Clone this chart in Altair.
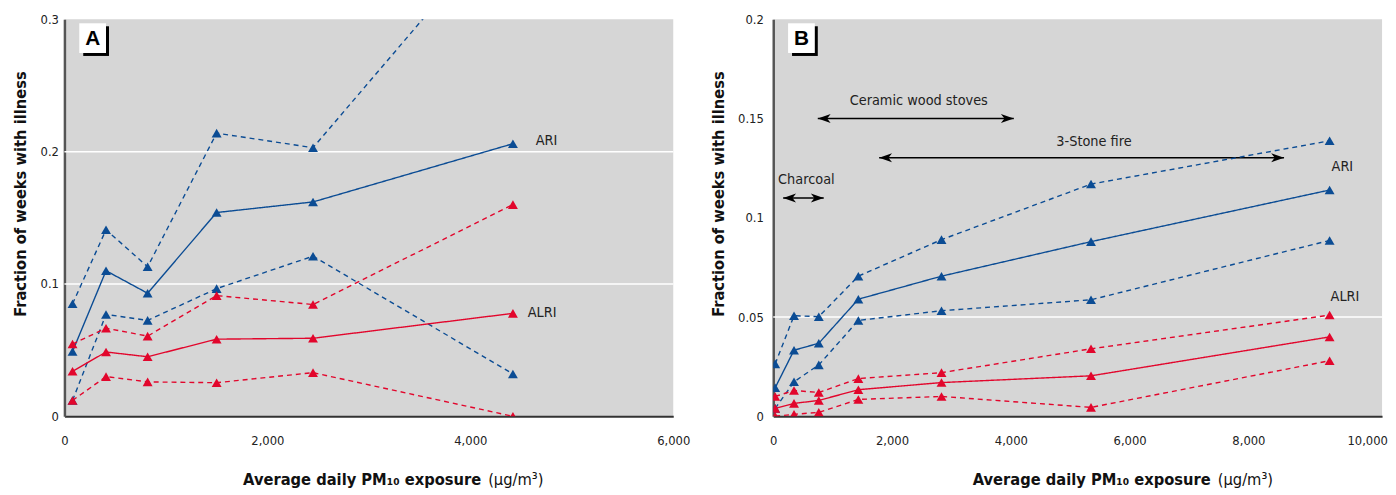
import altair as alt
import pandas as pd

# ---------------- data ----------------
# Panel A
a_x = [80, 410, 820, 1500, 2450, 4420]
a_ari_mid = [0.049, 0.110, 0.093, 0.154, 0.162, 0.206]
a_ari_hi = [0.085, 0.141, 0.113, 0.214, 0.203, 0.38]
a_ari_lo = [0.012, 0.077, 0.0725, 0.0965, 0.121, 0.032]
a_alri_mid = [0.034, 0.0486, 0.045, 0.0583, 0.059, 0.0778]
a_alri_hi = [0.0546, 0.0666, 0.0606, 0.0912, 0.0845, 0.160]
a_alri_lo = [0.012, 0.030, 0.026, 0.0254, 0.033, 0.0]

# Panel B
b_x = [33, 350, 767, 1433, 2833, 5350, 9367]
b_ari_mid = [0.0144, 0.0333, 0.0368, 0.059, 0.0706, 0.088, 0.114]
b_ari_hi = [0.0264, 0.0507, 0.0502, 0.0706, 0.089, 0.117, 0.1388]
b_ari_lo = [0.004, 0.0174, 0.0259, 0.0483, 0.0532, 0.0587, 0.0886]
b_alri_mid = [0.004, 0.0065, 0.008, 0.0134, 0.017, 0.0204, 0.040]
b_alri_hi = [0.010, 0.013, 0.012, 0.019, 0.022, 0.034, 0.051]
b_alri_lo = [0.0, 0.001, 0.002, 0.0085, 0.010, 0.0045, 0.028]

# series end labels
a_lab_text = ["ARI", "ALRI"]
a_lab_x = [4644, 4566]
a_lab_y = [0.208, 0.0778]
b_lab_text = ["ARI", "ALRI"]
b_lab_x = [9400, 9383]
b_lab_y = [0.1254, 0.0602]

# panel B annotations (fuel type ranges)
ann_text = ["Ceramic wood stoves", "3-Stone fire", "Charcoal"]
ann_text_x = [2450, 5400, 558]
ann_text_y = [0.159, 0.1383, 0.1189]
arr_x1 = [750, 1783, 167]
arr_x2 = [4050, 8600, 850]
arr_y = [0.15, 0.1303, 0.110]

a_grid = [0.1, 0.2]
b_grid = [0.05]

a_xticks = [0, 2000, 4000, 6000]
a_yticks = [0, 0.1, 0.2, 0.3]
b_xticks = [0, 2000, 4000, 6000, 8000, 10000]
b_yticks = [0, 0.05, 0.1, 0.15, 0.2]

# ---------------- style ----------------
BLUE = "#0b4c94"
RED = "#e2062c"
FONT = "Liberation Sans Narrow, DejaVu Sans Condensed, Arial Narrow, sans-serif"
W, H = 615, 401


def long_df(xs, ari_mid, ari_hi, ari_lo, alri_mid, alri_hi, alri_lo):
    rows = []
    for name, dis, kind, ys in [
        ("ari_mid", "ARI", "mid", ari_mid),
        ("ari_hi", "ARI", "bound", ari_hi),
        ("ari_lo", "ARI", "bound", ari_lo),
        ("alri_mid", "ALRI", "mid", alri_mid),
        ("alri_hi", "ALRI", "bound", alri_hi),
        ("alri_lo", "ALRI", "bound", alri_lo),
    ]:
        for x, y in zip(xs, ys):
            rows.append({"x": x, "y": y, "series": name, "disease": dis, "kind": kind})
    return pd.DataFrame(rows)


def make_axes(xticks, yticks, label_pad, title_pad):
    xaxis = alt.Axis(values=xticks, labelExpr="format(datum.value, ',')", title=None,
                     grid=False, ticks=False, labelFontSize=13, labelPadding=18,
                     labelFlush=False,
                     labelColor="#222", domainColor="#333", domainWidth=2)
    yaxis = alt.Axis(values=yticks, labelExpr="format(datum.value, '~g')",
                     title="Fraction of weeks with illness",
                     grid=False, ticks=False, labelFontSize=13, labelPadding=label_pad,
                     labelColor="#222", domainColor="#555", domainWidth=2.5,
                     titleFontSize=16.5, titleFontWeight="bold", titleColor="#111",
                     titlePadding=title_pad, titleY=176)
    return xaxis, yaxis


def panel(df, letter, xs, ys, xaxis, yaxis, grid, labs,
          xt_bold_end, xt_norm_start, extra_layers=()):
    color = alt.Color("disease:N", scale=alt.Scale(domain=["ARI", "ALRI"], range=[BLUE, RED]),
                      legend=None)
    dash = alt.StrokeDash("kind:N", scale=alt.Scale(domain=["mid", "bound"],
                                                     range=[[1, 0], [5, 4]]), legend=None)

    gdf = pd.DataFrame({"g": grid})
    gridl = alt.Chart(gdf).mark_rule(color="white", strokeWidth=1.5).encode(
        y=alt.Y("g:Q", scale=ys, axis=yaxis))

    base = alt.Chart(df)
    lines = base.mark_line(clip=True, strokeWidth=1.4).encode(
        x=alt.X("x:Q", scale=xs, axis=xaxis),
        y=alt.Y("y:Q", scale=ys, axis=yaxis),
        color=color, strokeDash=dash, detail="series:N")
    pts = base.mark_point(shape="triangle-up", filled=True, size=100, opacity=1, clip=True).encode(
        x=alt.X("x:Q", scale=xs, axis=xaxis), y=alt.Y("y:Q", scale=ys, axis=yaxis), color=color)

    ldf = pd.DataFrame({"t": labs[0], "x": labs[1], "y": labs[2]})
    labels = alt.Chart(ldf).mark_text(align="left", baseline="middle", fontSize=14.5,
                                       color="#222").encode(
        x=alt.X("x:Q", scale=xs, axis=xaxis), y=alt.Y("y:Q", scale=ys, axis=yaxis), text="t:N")

    one = pd.DataFrame({"k": [0]})
    shadow = alt.Chart(one).mark_rect(color="black").encode(
        x=alt.value(19), x2=alt.value(45), y=alt.value(7), y2=alt.value(37))
    box = alt.Chart(one).mark_rect(color="white").encode(
        x=alt.value(15), x2=alt.value(42), y=alt.value(4), y2=alt.value(34))
    let = alt.Chart(one).mark_text(text=letter, fontSize=21, fontWeight="bold",
                                   font="Liberation Sans, Arial, sans-serif",
                                   baseline="middle", align="center", color="black").encode(
        x=alt.value(28.5), y=alt.value(19.5))

    xt1 = alt.Chart(one).mark_text(text="Average daily PM\u2081\u2080 exposure", fontSize=16.5,
                                   fontWeight="bold", align="right", baseline="middle",
                                   color="#111").encode(
        x=alt.value(xt_bold_end), y=alt.value(H + 64))
    xt2 = alt.Chart(one).mark_text(text="(\u03bcg/m\u00b3)", fontSize=16.5, align="left",
                                   baseline="middle", color="#111").encode(
        x=alt.value(xt_norm_start), y=alt.value(H + 64))

    layers = [gridl, *extra_layers, lines, pts, labels, shadow, box, let, xt1, xt2]
    return alt.layer(*layers).properties(width=W, height=H)


dfa = long_df(a_x, a_ari_mid, a_ari_hi, a_ari_lo, a_alri_mid, a_alri_hi, a_alri_lo)
dfb = long_df(b_x, b_ari_mid, b_ari_hi, b_ari_lo, b_alri_mid, b_alri_hi, b_alri_lo)

ax_scale = alt.Scale(domain=[0, 6000], nice=False, zero=False)
ay_scale = alt.Scale(domain=[0, 0.3], nice=False)
bx_scale = alt.Scale(domain=[0, 10250], nice=False, zero=False)
by_scale = alt.Scale(domain=[0, 0.2], nice=False)

ax_axis, ay_axis = make_axes(a_xticks, a_yticks, 6, 12)
bx_axis, by_axis = make_axes(b_xticks, b_yticks, 10, 11)

# panel B arrows & annotation text
arr = pd.DataFrame({"x1": arr_x1, "x2": arr_x2, "y": arr_y})
shafts = alt.Chart(arr).mark_rule(color="black", strokeWidth=1.5).encode(
    x=alt.X("x1:Q", scale=bx_scale, axis=bx_axis), x2="x2:Q",
    y=alt.Y("y:Q", scale=by_scale, axis=by_axis))
head_r = alt.Chart(arr).mark_point(shape="M0,0 L-2,-0.7 L-1.45,0 L-2,0.7 Z", filled=True,
                                   size=169, color="black", opacity=1).encode(
    x=alt.X("x2:Q", scale=bx_scale, axis=bx_axis), y=alt.Y("y:Q", scale=by_scale, axis=by_axis))
head_l = alt.Chart(arr).mark_point(shape="M0,0 L2,-0.7 L1.45,0 L2,0.7 Z", filled=True,
                                   size=169, color="black", opacity=1).encode(
    x=alt.X("x1:Q", scale=bx_scale, axis=bx_axis), y=alt.Y("y:Q", scale=by_scale, axis=by_axis))
adf = pd.DataFrame({"t": ann_text, "x": ann_text_x, "y": ann_text_y})
ann = alt.Chart(adf).mark_text(align="center", baseline="middle", fontSize=14.5,
                               color="#222").encode(
    x=alt.X("x:Q", scale=bx_scale, axis=bx_axis), y=alt.Y("y:Q", scale=by_scale, axis=by_axis),
    text="t:N")

pa = panel(dfa, "A", ax_scale, ay_scale, ax_axis, ay_axis, a_grid,
           (a_lab_text, a_lab_x, a_lab_y), 421, 428)
pb = panel(dfb, "B", bx_scale, by_scale, bx_axis, by_axis, b_grid,
           (b_lab_text, b_lab_x, b_lab_y), 442, 449,
           extra_layers=(shafts, head_l, head_r, ann))

chart = alt.hconcat(pa, pb, spacing=20).properties(
    padding={"left": 4, "top": 3, "right": 0, "bottom": 0}
).configure(font=FONT).configure_view(fill="#d6d6d6", stroke=None)

chart.save("out.html", embed_options={"renderer": "svg", "actions": False})
